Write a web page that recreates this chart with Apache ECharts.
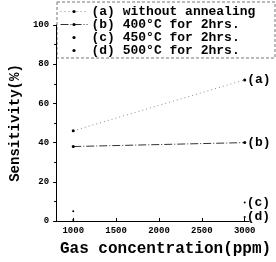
<!DOCTYPE html>
<html>
<head>
<meta charset="utf-8">
<script src="https://cdn.jsdelivr.net/npm/echarts@6/dist/echarts.min.js"></script>
<style>
  html, body { margin: 0; padding: 0; background: #fff; }
  #chart { width: 276px; height: 262px; }
</style>
</head>
<body>
<div id="chart"></div>
<script>
// gas concentration (ppm)
const concentrations = [1000, 3000]
const xTicks = [1000, 1500, 2000, 2500, 3000]

// sensitivity (%)
const seriesNames = [
  '(a) without annealing',
  '(b) 400°C for 2hrs.',
  '(c) 450°C for 2hrs.',
  '(d) 500°C for 2hrs.'
]
const endTags = ['(a)', '(b)', '(c)', '(d)']
const sensA = [46, 72]
const sensB = [38, 40]
const sensC = [5, 9.5]
const sensD = [0.5, 2]

const mono = 'Liberation Mono'

function toPoints(values, tag) {
  return values.map((v, i) => {
    const item = { value: [concentrations[i], v] }
    if (i === values.length - 1) {
      item.label = {
        show: true,
        position: 'right',
        distance: 1,
        formatter: tag,
        color: '#000',
        fontFamily: mono,
        fontWeight: 'bold',
        fontSize: 13
      }
    }
    return item
  })
}

const chart = echarts.init(document.getElementById('chart'))

chart.setOption({
  animation: false,
  grid: { left: 49, top: 25, width: 200, height: 198 },
  graphic: [
    {
      type: 'rect',
      shape: { x: 57, y: 2, width: 218, height: 56 },
      style: { fill: 'none', stroke: '#777', lineWidth: 1, lineDash: [3, 2] },
      z: 0
    }
  ],
  legend: {
    orient: 'vertical',
    left: 60,
    top: 5,
    itemWidth: 27,
    itemHeight: 4,
    itemGap: 0,
    padding: 0,
    lineStyle: { width: 1 },
    textStyle: {
      color: '#000',
      fontFamily: mono,
      fontWeight: 'bold',
      fontSize: 13,
      lineHeight: 13,
      padding: [0, 0, 0, -1]
    },
    data: seriesNames
  },
  xAxis: {
    type: 'value',
    min: 800,
    max: 3050,
    name: 'Gas concentration(ppm)',
    nameLocation: 'middle',
    nameGap: 20,
    nameTextStyle: {
      color: '#000',
      fontFamily: mono,
      fontWeight: 'bold',
      fontSize: 16,
      padding: [0, 0, 0, 26]
    },
    axisLine: { lineStyle: { color: '#000', width: 1 } },
    axisTick: { inside: true, length: 3, customValues: xTicks, lineStyle: { color: '#000' } },
    axisLabel: {
      customValues: xTicks,
      formatter: v => String(v),
      color: '#000',
      fontFamily: mono,
      fontWeight: 'bold',
      fontSize: 9,
      margin: 5
    },
    splitLine: { show: false }
  },
  yAxis: {
    type: 'value',
    min: 0,
    max: 100,
    interval: 20,
    name: 'Sensitivity(%)',
    nameLocation: 'middle',
    nameGap: 32,
    nameTextStyle: {
      color: '#000',
      fontFamily: mono,
      fontWeight: 'bold',
      fontSize: 14
    },
    axisLine: { show: true, lineStyle: { color: '#000', width: 1 } },
    axisTick: { show: true, length: 3, lineStyle: { color: '#000' } },
    minorTick: { show: true, splitNumber: 2, length: 2, lineStyle: { color: '#000' } },
    axisLabel: {
      color: '#000',
      fontFamily: mono,
      fontWeight: 'bold',
      fontSize: 9,
      margin: 7
    },
    splitLine: { show: false }
  },
  series: [
    {
      name: seriesNames[0],
      type: 'line',
      data: toPoints(sensA, endTags[0]),
      symbol: 'circle',
      symbolSize: 3,
      itemStyle: { color: '#000' },
      lineStyle: { color: '#888', width: 1, type: [1, 3] }
    },
    {
      name: seriesNames[1],
      type: 'line',
      data: toPoints(sensB, endTags[1]),
      symbol: 'circle',
      symbolSize: 3,
      itemStyle: { color: '#000' },
      lineStyle: { color: '#333', width: 1, type: [8, 2, 1, 2] }
    },
    {
      name: seriesNames[2],
      type: 'line',
      data: toPoints(sensC, endTags[2]),
      symbol: 'circle',
      symbolSize: 2,
      itemStyle: { color: '#000' },
      lineStyle: { opacity: 0 }
    },
    {
      name: seriesNames[3],
      type: 'line',
      data: toPoints(sensD, endTags[3]),
      symbol: 'circle',
      symbolSize: 2,
      itemStyle: { color: '#000' },
      lineStyle: { opacity: 0 }
    }
  ]
})
</script>
</body>
</html>
